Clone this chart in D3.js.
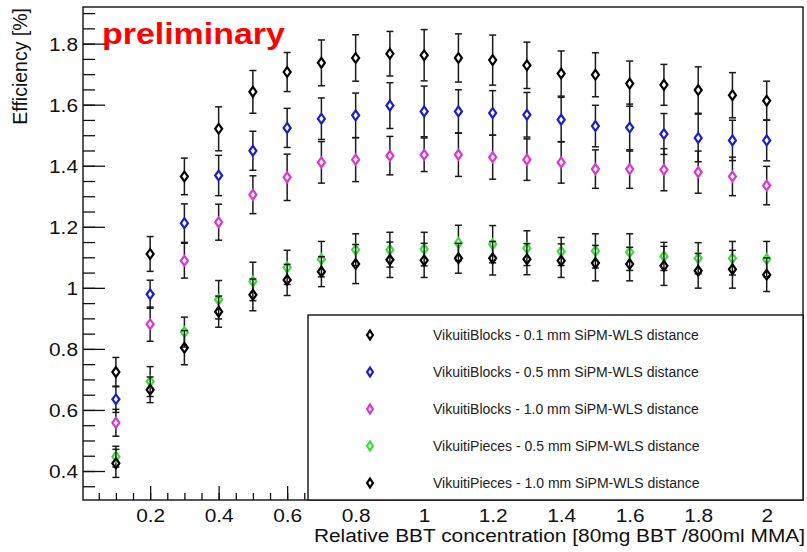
<!DOCTYPE html>
<html>
<head>
<meta charset="utf-8">
<script src="https://cdn.jsdelivr.net/npm/d3@7"></script>
<style>
  body { margin: 0; background: #fff; }
  svg { display: block; font-family: "Liberation Sans", Arial, sans-serif; }
</style>
</head>
<body>
<div id="chart"></div>
<script>
// concentration points (relative BBT)
var conc = [0.1, 0.2, 0.3, 0.4, 0.5, 0.6, 0.7, 0.8, 0.9, 1.0, 1.1, 1.2, 1.3, 1.4, 1.5, 1.6, 1.7, 1.8, 1.9, 2.0];

var blocks01 = [0.724, 1.111, 1.365, 1.521, 1.642, 1.707, 1.737, 1.753, 1.767, 1.762, 1.753, 1.746, 1.729, 1.702, 1.698, 1.669, 1.665, 1.648, 1.631, 1.613];
var blocks01Err = [0.048, 0.057, 0.060, 0.072, 0.070, 0.064, 0.075, 0.076, 0.073, 0.084, 0.079, 0.082, 0.076, 0.074, 0.072, 0.074, 0.067, 0.076, 0.074, 0.064];

var blocks05 = [0.635, 0.979, 1.212, 1.368, 1.449, 1.524, 1.554, 1.565, 1.597, 1.578, 1.578, 1.573, 1.567, 1.551, 1.530, 1.525, 1.504, 1.491, 1.483, 1.483];
var blocks05Err = [0.043, 0.046, 0.063, 0.066, 0.064, 0.064, 0.068, 0.073, 0.075, 0.083, 0.071, 0.073, 0.073, 0.073, 0.068, 0.077, 0.067, 0.078, 0.066, 0.067];

var blocks10 = [0.558, 0.881, 1.089, 1.215, 1.305, 1.362, 1.411, 1.420, 1.433, 1.436, 1.436, 1.428, 1.420, 1.411, 1.389, 1.389, 1.387, 1.379, 1.365, 1.335];
var blocks10Err = [0.044, 0.056, 0.057, 0.059, 0.062, 0.076, 0.068, 0.072, 0.063, 0.055, 0.071, 0.072, 0.068, 0.068, 0.063, 0.063, 0.069, 0.069, 0.063, 0.063];

var pieces05 = [0.447, 0.693, 0.855, 0.961, 1.021, 1.067, 1.094, 1.125, 1.125, 1.127, 1.147, 1.143, 1.130, 1.119, 1.121, 1.117, 1.103, 1.097, 1.097, 1.094];
var pieces05Err = [0.034, 0.049, 0.049, 0.063, 0.063, 0.056, 0.058, 0.052, 0.057, 0.055, 0.058, 0.061, 0.057, 0.046, 0.056, 0.060, 0.046, 0.051, 0.055, 0.058];

var pieces10 = [0.425, 0.666, 0.804, 0.922, 0.977, 1.026, 1.053, 1.078, 1.092, 1.090, 1.097, 1.097, 1.094, 1.089, 1.081, 1.078, 1.072, 1.056, 1.061, 1.043];
var pieces10Err = [0.046, 0.042, 0.056, 0.051, 0.052, 0.051, 0.049, 0.064, 0.058, 0.056, 0.049, 0.055, 0.051, 0.055, 0.058, 0.055, 0.064, 0.057, 0.062, 0.055];

var seriesNames = [
  "VikuitiBlocks - 0.1 mm SiPM-WLS distance",
  "VikuitiBlocks - 0.5 mm SiPM-WLS distance",
  "VikuitiBlocks - 1.0 mm SiPM-WLS distance",
  "VikuitiPieces - 0.5 mm SiPM-WLS distance",
  "VikuitiPieces - 1.0 mm SiPM-WLS distance"
];
var seriesColors = ["#000000", "#1c1ccc", "#d935d9", "#3ddc3d", "#000000"];
var seriesValues = [blocks01, blocks05, blocks10, pieces05, pieces10];
var seriesErrors = [blocks01Err, blocks05Err, blocks10Err, pieces05Err, pieces10Err];

var xTicks = [0.2, 0.4, 0.6, 0.8, 1.0, 1.2, 1.4, 1.6, 1.8, 2.0];
var yTicks = [0.4, 0.6, 0.8, 1.0, 1.2, 1.4, 1.6, 1.8];

var W = 807, H = 552;
var frameL = 83, frameR = 803, frameT = 7, frameB = 500;
var stretch = 1.16;

var x = d3.scaleLinear().domain([0.004, 2.106]).range([frameL, frameR]);
var y = d3.scaleLinear().domain([0.305, 1.92]).range([frameB, frameT]);

var svg = d3.select("#chart").append("svg")
  .attr("width", W)
  .attr("height", H);

var fmt = function(d) { return String(+d.toFixed(1)); };

// minor ticks
var xMinor = d3.range(0.05, 2.101, 0.05);
var yMinor = d3.range(0.35, 1.901, 0.05);

svg.append("g")
  .attr("transform", "translate(0," + frameB + ")")
  .call(d3.axisBottom(x).tickValues(xMinor).tickSize(-7).tickFormat(""));
svg.append("g")
  .attr("transform", "translate(" + frameL + ",0)")
  .call(d3.axisLeft(y).tickValues(yMinor).tickSize(-12).tickFormat(""));

var xAxis = svg.append("g")
  .attr("transform", "translate(0," + frameB + ")")
  .call(d3.axisBottom(x).tickValues(xTicks).tickSize(-14).tickFormat(fmt));
xAxis.selectAll("text")
  .attr("y", 0).attr("dy", null)
  .attr("transform", "translate(0,21.5) scale(" + stretch + ",1)")
  .style("font-size", "18px");

var yAxis = svg.append("g")
  .attr("transform", "translate(" + frameL + ",0)")
  .call(d3.axisLeft(y).tickValues(yTicks).tickSize(-22).tickFormat(fmt));
yAxis.selectAll("text")
  .attr("x", 0).attr("dy", "0.36em")
  .attr("transform", "translate(-5,0) scale(" + stretch + ",1)")
  .style("font-size", "18px");

svg.selectAll(".domain").remove();
svg.selectAll(".tick line").attr("stroke", "#111").attr("stroke-width", 1.3);
svg.selectAll(".tick text").attr("fill", "#111").attr("font-family", null);

// frame
svg.append("rect")
  .attr("x", frameL).attr("y", frameT)
  .attr("width", frameR - frameL).attr("height", frameB - frameT)
  .attr("fill", "none").attr("stroke", "#111").attr("stroke-width", 1.4);

// axis titles
svg.append("text")
  .attr("transform", "translate(805,542) scale(" + stretch + ",1)")
  .attr("text-anchor", "end")
  .style("font-size", "18px")
  .attr("fill", "#111")
  .text("Relative BBT concentration [80mg BBT /800ml MMA]");

svg.append("text")
  .attr("transform", "translate(27,8) rotate(-90)")
  .attr("text-anchor", "end")
  .style("font-size", "19.5px")
  .attr("fill", "#111")
  .text("Efficiency [%]");

svg.append("text")
  .attr("transform", "translate(102,44) scale(1.17,1)")
  .style("font-size", "29px")
  .style("font-weight", "bold")
  .attr("fill", "#ff0000")
  .text("preliminary");

var diamond = "M0,-4.9L3.5,0L0,4.9L-3.5,0Z";
var gap = 5.5;

seriesValues.forEach(function(vals, s) {
  var errs = seriesErrors[s];
  var pts = conc.map(function(c, i) { return { c: c, v: vals[i], e: errs[i] }; });
  var g = svg.append("g");

  var eb = g.selectAll("g.err")
    .data(pts)
    .enter().append("g")
      .attr("class", "err")
      .attr("stroke", "#1a1a1a")
      .attr("stroke-width", 1.5);

  eb.append("line")
    .attr("x1", function(d) { return x(d.c); })
    .attr("x2", function(d) { return x(d.c); })
    .attr("y1", function(d) { return y(d.v) - gap; })
    .attr("y2", function(d) { return Math.min(y(d.v) - gap, y(d.v + d.e)); });
  eb.append("line")
    .attr("x1", function(d) { return x(d.c); })
    .attr("x2", function(d) { return x(d.c); })
    .attr("y1", function(d) { return y(d.v) + gap; })
    .attr("y2", function(d) { return Math.max(y(d.v) + gap, y(d.v - d.e)); });
  eb.append("line")
    .attr("x1", function(d) { return x(d.c) - 3.5; })
    .attr("x2", function(d) { return x(d.c) + 3.5; })
    .attr("y1", function(d) { return y(d.v + d.e); })
    .attr("y2", function(d) { return y(d.v + d.e); });
  eb.append("line")
    .attr("x1", function(d) { return x(d.c) - 3.5; })
    .attr("x2", function(d) { return x(d.c) + 3.5; })
    .attr("y1", function(d) { return y(d.v - d.e); })
    .attr("y2", function(d) { return y(d.v - d.e); });

  g.selectAll("path.mk")
    .data(pts)
    .enter().append("path")
      .attr("class", "mk")
      .attr("d", diamond)
      .attr("transform", function(d) { return "translate(" + x(d.c) + "," + y(d.v) + ")"; })
      .attr("fill", "none")
      .attr("stroke", seriesColors[s])
      .attr("stroke-width", 2.2);
});

// legend
var lg = svg.append("g");
lg.append("rect")
  .attr("x", 308).attr("y", 315)
  .attr("width", frameR - 308).attr("height", frameB - 315)
  .attr("fill", "#fff").attr("stroke", "#111").attr("stroke-width", 1.4);

var entries = lg.selectAll("g.entry")
  .data(seriesNames)
  .enter().append("g")
    .attr("class", "entry")
    .attr("transform", function(d, i) { return "translate(0," + (335 + i * 37) + ")"; });

entries.append("path")
  .attr("d", "M0,-4.4L2.9,0L0,4.4L-2.9,0Z")
  .attr("transform", "translate(370,0)")
  .attr("fill", "none")
  .attr("stroke", function(d, i) { return seriesColors[i]; })
  .attr("stroke-width", 2.2);

entries.append("text")
  .attr("x", 433)
  .attr("dy", "0.36em")
  .style("font-size", "14px")
  .attr("fill", "#222")
  .text(function(d) { return d; });
</script>
</body>
</html>
